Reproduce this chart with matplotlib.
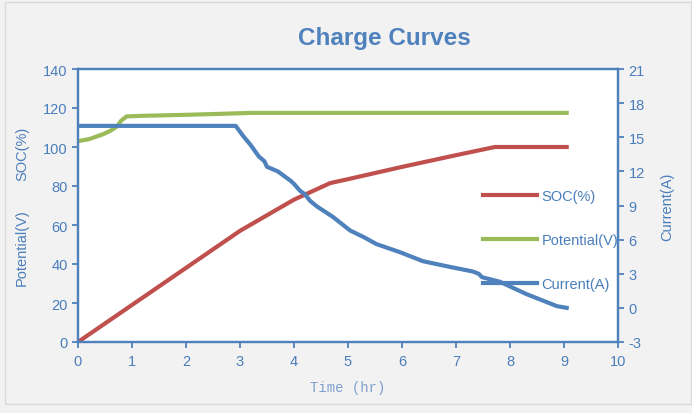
import matplotlib
matplotlib.use("Agg")
import matplotlib.pyplot as plt
from matplotlib.patches import Rectangle

# data
soc_t = [0, 1, 2, 3, 3.5, 4, 4.67, 5, 6, 7, 7.72, 9.05]
soc = [0, 19, 38, 57, 65, 73, 81.5, 83.5, 89.8, 95.8, 100, 100]

pot_t = [0, 0.2, 0.46, 0.6, 0.72, 0.8, 0.9, 1.2, 2, 3, 3.2, 9.05]
pot = [103, 104, 106.5, 108.3, 110.5, 113.5, 115.7, 116, 116.5, 117.3, 117.5, 117.5]

cur_t = [0, 2.92, 3.06, 3.2, 3.35, 3.45, 3.5, 3.7, 3.93, 4.0, 4.11, 4.2, 4.3,
         4.43, 4.72, 5.04, 5.3, 5.53, 5.96, 6.39, 6.89, 7.31, 7.42, 7.48,
         7.81, 8.31, 8.87, 9.05]
cur = [16, 16, 15.1, 14.3, 13.3, 12.9, 12.4, 12.0, 11.2, 10.9, 10.3, 10.0, 9.4,
       8.9, 8.0, 6.8, 6.2, 5.6, 4.9, 4.1, 3.6, 3.2, 3.0, 2.7,
       2.3, 1.2, 0.15, 0.0]

blue = '#4f81bd'
red = '#c0504d'
green = '#9bbb59'
txt = '#4a7ebb'

plt.rcParams['font.family'] = ['Liberation Sans', 'DejaVu Sans']
plt.rcParams['axes.unicode_minus'] = False

fig = plt.figure(figsize=(6.92, 4.14), dpi=100, facecolor='#f2f2f2')
fig.patches.append(Rectangle((5 / 692, 1 - 405 / 414), 686 / 692, 402 / 414,
                             transform=fig.transFigure, fill=False,
                             edgecolor='#d9d9d9', lw=1))
ax = fig.add_axes([78 / 692, 1 - 343 / 414, 540 / 692, 273 / 414])
ax2 = ax.twinx()

l1, = ax.plot(soc_t, soc, color=red, lw=3, label='SOC(%)')
l2, = ax.plot(pot_t, pot, color=green, lw=3, label='Potential(V)')
l3, = ax2.plot(cur_t, cur, color=blue, lw=3, label='Current(A)')

ax.set_xlim(0, 10)
ax.set_ylim(0, 140)
ax.set_xticks(range(0, 11))
ax.set_yticks(range(0, 141, 20))
ax2.set_ylim(-3, 21)
ax2.set_yticks(range(-3, 22, 3))

for a in (ax, ax2):
    for s in a.spines.values():
        s.set_color(blue)
        s.set_linewidth(1.6)
    a.tick_params(colors=blue, labelcolor=txt, labelsize=10.5, width=1.3,
                  length=4)
ax.tick_params(axis='x', pad=5)
ax.set_facecolor('white')

ax.set_xlabel('Time (hr)', family='Liberation Mono', color='#7f9fcf',
              fontsize=10, labelpad=8)

fig.text(22 / 692, 1 - 154 / 414, 'SOC(%)', rotation=90, color=txt,
         fontsize=10.5, ha='center', va='center')
fig.text(22 / 692, 1 - 248 / 414, 'Potential(V)', rotation=90, color=txt,
         fontsize=10.5, ha='center', va='center')
fig.text(667 / 692, 1 - 207 / 414, 'Current(A)', rotation=90, color=txt,
         fontsize=10.5, ha='center', va='center')

fig.text(384 / 692, 1 - 38 / 414, 'Charge Curves', color=blue, fontsize=17.5,
         fontweight='bold', ha='center', va='center')

leg = ax2.legend([l1, l2, l3], ['SOC(%)', 'Potential(V)', 'Current(A)'],
                 loc='upper left', bbox_to_anchor=(470 / 692, 1 - 177 / 414),
                 bbox_transform=fig.transFigure, frameon=False, fontsize=10.5,
                 handlelength=3.7, handletextpad=0.3, labelspacing=2.05)
for t in leg.get_texts():
    t.set_color(txt)

fig.savefig('out.png', dpi=100, facecolor=fig.get_facecolor())
